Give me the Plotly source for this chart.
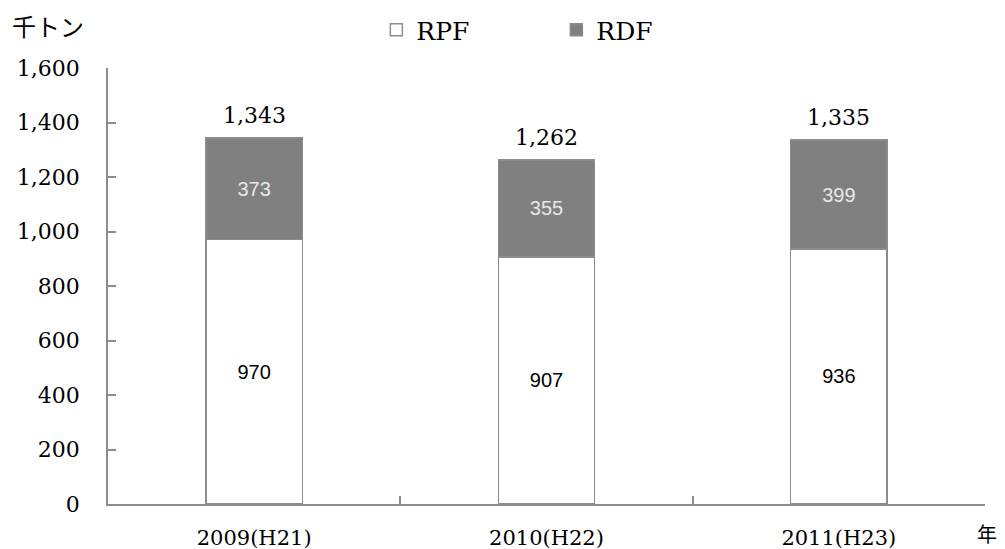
import plotly.graph_objects as go

categories = ["2009(H21)", "2010(H22)", "2011(H23)"]
rpf = [970, 907, 936]
rdf = [373, 355, 399]
totals = [1343, 1262, 1335]
y_ticks = [0, 200, 400, 600, 800, 1000, 1200, 1400, 1600]

SERIF = "DejaVu Serif, Liberation Serif, serif"
SANS = "Liberation Sans, Arial, sans-serif"
JP = "Noto Sans CJK JP, sans-serif"
EDGE = "#8c8c8c"

fig = go.Figure()
fig.add_trace(go.Bar(
    name="RPF", x=categories, y=rpf,
    marker=dict(color="white", line=dict(color=EDGE, width=1.5)),
    text=[str(v) for v in rpf], textposition="inside", insidetextanchor="middle",
    textfont=dict(family=SANS, size=20, color="black"),
))
fig.add_trace(go.Bar(
    name="RDF", x=categories, y=rdf,
    marker=dict(color="#808080", line=dict(color=EDGE, width=1.5)),
    text=[str(v) for v in rdf], textposition="inside", insidetextanchor="middle",
    textfont=dict(family=SANS, size=20, color="#e8e8e8"),
))

for c, t in zip(categories, totals):
    fig.add_annotation(x=c, y=t, text=f"{t:,}", showarrow=False,
                       yanchor="bottom", yshift=8,
                       font=dict(family=SERIF, size=22, color="black"))

fig.add_annotation(xref="paper", yref="paper", x=-0.1117, y=1.0986, xanchor="left",
                   yanchor="middle", text="千トン", showarrow=False,
                   font=dict(family=JP, size=24, color="black"))
fig.add_annotation(xref="paper", yref="paper", x=1.002, y=-0.068, xanchor="center",
                   yanchor="middle", text="年", showarrow=False,
                   font=dict(family=JP, size=20, color="black"))

# page body adds an 8px offset, so the figure is sized to the remaining area
fig.update_layout(
    width=997, height=541,
    margin=dict(l=100, r=20, t=60, b=45, autoexpand=False),
    barmode="stack", bargap=0.67,
    plot_bgcolor="white", paper_bgcolor="white",
    showlegend=True,
    legend=dict(orientation="h", x=0.306, y=1.087, xanchor="left", yanchor="middle",
                font=dict(family=SERIF, size=25, color="black"),
                entrywidth=135, traceorder="normal"),
    xaxis=dict(showline=True, linecolor=EDGE, linewidth=1.5, ticks="inside",
               tickson="boundaries", ticklen=8, tickcolor=EDGE, tickwidth=1.5,
               tickfont=dict(family=SERIF, size=21, color="black"),
               ticklabelstandoff=14, showgrid=False),
    yaxis=dict(range=[0, 1600], tickvals=y_ticks, tickformat=",d",
               showline=True, linecolor=EDGE, linewidth=1.5, ticks="inside",
               ticklen=8, tickcolor=EDGE, tickwidth=1.5,
               tickfont=dict(family=SERIF, size=22, color="black"),
               ticklabelstandoff=22, showgrid=False, zeroline=False),
)

fig.write_html("out.html")
